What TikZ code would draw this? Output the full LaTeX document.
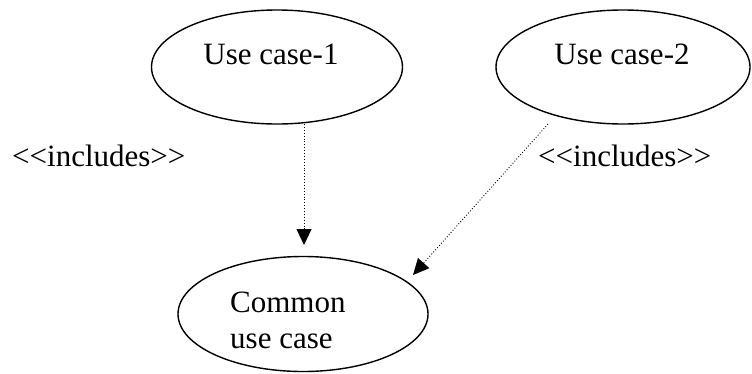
\documentclass[tikz,border=0pt]{standalone}
\usepackage{fontspec}
\setmainfont{Liberation Serif}
\usetikzlibrary{shapes.geometric,arrows.meta}
\begin{document}
\begin{tikzpicture}[x=1pt,y=-1pt,
  uc/.style={draw, ellipse, line width=1.4pt, inner sep=0pt},
  txt/.style={inner sep=0pt, font=\fontsize{31}{36}\selectfont},
  inc/.style={dotted, line width=0.9pt, -{Triangle[length=16pt,width=15pt]}}]
\useasboundingbox (0,0) rectangle (752,373);
\node[uc, minimum width=251pt, minimum height=114pt] (uc1) at (277,67) {};
\node[txt, anchor=base] (t1) at (271,64) {Use case-1};
\node[uc, minimum width=254pt, minimum height=114pt] (uc2) at (623,67) {};
\node[txt, anchor=base] (t2) at (622,64) {Use case-2};
\node[uc, minimum width=250pt, minimum height=115pt] (cu) at (303,314) {};
\node[txt, anchor=base west] (t3a) at (230,312) {Common};
\node[txt, anchor=base west] (t3b) at (230,348) {use case};
\node[txt, anchor=base west] (l1) at (12,166) {{<}{<}includes{>}{>}};
\node[txt, anchor=base west] (l2) at (538,166) {{<}{<}includes{>}{>}};
\coordinate (s1) at (304,124);
\coordinate (e1) at (304,245);
\coordinate (s2) at (548,124);
\coordinate (e2) at (413,275);
\draw[inc] (s1) -- (e1);
\draw[inc] (s2) -- (e2);
\end{tikzpicture}
\end{document}
